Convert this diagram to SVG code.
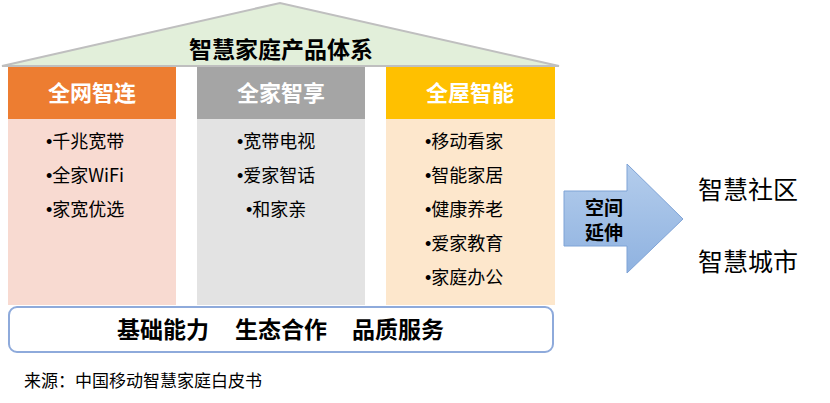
<svg xmlns="http://www.w3.org/2000/svg" width="830" height="403" viewBox="0 0 830 403">
<defs><linearGradient id="ag" x1="0" y1="0" x2="0" y2="1"><stop offset="0" stop-color="#b4cdec"/><stop offset="1" stop-color="#8fb2e0"/></linearGradient></defs>
<style>
text{font-family:"Noto Sans CJK SC","Liberation Sans",sans-serif}
.h{font-size:22px;font-weight:bold;fill:#fff;text-anchor:middle}
.i{font-size:18px;fill:#000}
.b{font-family:"Liberation Sans",sans-serif}
.f{font-size:23px;font-weight:bold}
</style>
<rect width="830" height="403" fill="#fff"/>
<g id="roof"><polygon points="2,66 280,3 559,66" fill="#e2efda" stroke="#bfbfbf" stroke-width="2"/>
<text x="281" y="58" text-anchor="middle" font-size="23" font-weight="bold">智慧家庭产品体系</text></g>
<g id="col1"><rect x="8" y="67" width="168" height="238" fill="#f8dad1"/><rect x="8" y="67" width="168" height="52" fill="#ed7d31"/>
<text class="h" x="92" y="101">全网智连</text>
<text class="i" x="46" y="148"><tspan class="b">•</tspan>千兆宽带</text><text class="i" x="46" y="182"><tspan class="b">•</tspan>全家WiFi</text><text class="i" x="46" y="216"><tspan class="b">•</tspan>家宽优选</text></g>
<g id="col2"><rect x="197" y="67" width="168" height="238" fill="#e3e3e3"/><rect x="197" y="67" width="168" height="52" fill="#a5a5a5"/>
<text class="h" x="281" y="101">全家智享</text>
<text class="i" x="237" y="148"><tspan class="b">•</tspan>宽带电视</text><text class="i" x="237" y="182"><tspan class="b">•</tspan>爱家智话</text><text class="i" x="246" y="216"><tspan class="b">•</tspan>和家亲</text></g>
<g id="col3"><rect x="386" y="67" width="169" height="238" fill="#fde7cc"/><rect x="386" y="67" width="169" height="52" fill="#ffc000"/>
<text class="h" x="470" y="101">全屋智能</text>
<text class="i" x="425" y="148"><tspan class="b">•</tspan>移动看家</text><text class="i" x="425" y="182"><tspan class="b">•</tspan>智能家居</text><text class="i" x="425" y="216"><tspan class="b">•</tspan>健康养老</text><text class="i" x="425" y="250"><tspan class="b">•</tspan>爱家教育</text><text class="i" x="425" y="284"><tspan class="b">•</tspan>家庭办公</text></g>
<g id="base"><rect x="9" y="307" width="544" height="45" rx="8" fill="#fff" stroke="#8eaadb" stroke-width="2"/>
<text class="f" x="117" y="338">基础能力</text><text class="f" x="235" y="338">生态合作</text><text class="f" x="352" y="338">品质服务</text></g>
<g id="arrow"><polygon points="564,191 627,191 627,164 683,219 627,273 627,246 564,246" fill="url(#ag)" stroke="#7fa3d6"/>
<text x="604" y="215" text-anchor="middle" font-size="19" font-weight="bold">空间</text><text x="604" y="240" text-anchor="middle" font-size="19" font-weight="bold">延伸</text></g>
<g id="out"><text x="698" y="199" font-size="25">智慧社区</text><text x="698" y="271" font-size="25">智慧城市</text></g>
<text x="24" y="387" font-size="17">来源：中国移动智慧家庭白皮书</text>
</svg>
